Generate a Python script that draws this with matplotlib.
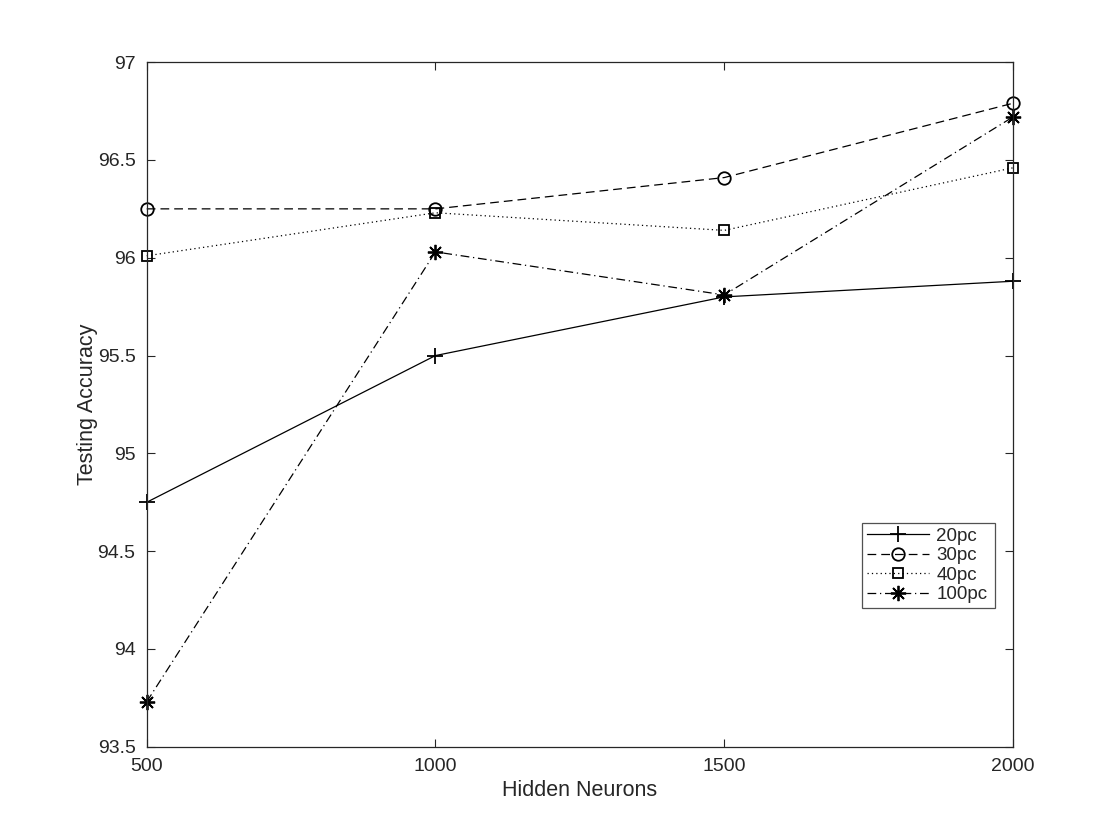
import matplotlib
matplotlib.use('Agg')
import matplotlib.pyplot as plt
from matplotlib.ticker import FormatStrFormatter

# Datos
neuronas = [500, 1000, 1500, 2000]
acc_20pc = [94.75, 95.50, 95.80, 95.88]
acc_30pc = [96.25, 96.25, 96.41, 96.79]
acc_40pc = [96.01, 96.23, 96.14, 96.46]
acc_100pc = [93.73, 96.03, 95.81, 96.72]
yticks = [93.5, 94, 94.5, 95, 95.5, 96, 96.5, 97]

plt.rcParams['font.family'] = ['Liberation Sans', 'DejaVu Sans']
gris = '#262626'

fig = plt.figure(figsize=(11.2, 8.4), dpi=100)
ax = fig.add_axes([0.131, 0.111, 0.7735, 0.815])

lw = 0.9
ax.plot(neuronas, acc_20pc, color='black', linestyle='-', linewidth=lw,
        marker='+', markersize=12, markeredgewidth=1.3, label='20pc', clip_on=False)
ax.plot(neuronas, acc_30pc, color='black', linestyle=(0, (7, 4)), linewidth=lw,
        marker='o', markersize=9, markerfacecolor='none', markeredgewidth=1.3,
        label='30pc', clip_on=False)
ax.plot(neuronas, acc_40pc, color='black', linestyle=(0, (1, 2.5)), linewidth=lw,
        marker='s', markersize=7, markerfacecolor='none', markeredgewidth=1.3,
        label='40pc', clip_on=False)
ax.plot(neuronas, acc_100pc, color='black', linestyle=(0, (7, 3, 1, 3)), linewidth=lw,
        marker=(8, 2, 0), markersize=11, markeredgewidth=1.3, label='100pc', clip_on=False)

ax.set_xlim(500, 2000)
ax.set_ylim(93.5, 97)
ax.set_xticks(neuronas)
ax.set_yticks(yticks)
ax.yaxis.set_major_formatter(FormatStrFormatter('%g'))
ax.tick_params(direction='in', length=6, width=0.8, top=True, right=True,
               labelsize=14, colors=gris, pad=8)
for lado in ax.spines.values():
    lado.set_color(gris)
    lado.set_linewidth(0.9)

ax.set_xlabel('Hidden Neurons', fontsize=15.5, color=gris, labelpad=4)
ax.set_ylabel('Testing Accuracy', fontsize=15.5, color=gris, labelpad=0)

leg = ax.legend(loc='lower left', bbox_to_anchor=(0.826, 0.203, 0.153, 0.127),
                mode='expand', fontsize=13.5, handlelength=3.3, handletextpad=0.4,
                borderaxespad=0, borderpad=0.25, labelspacing=0.12, fancybox=False)
leg.get_frame().set_edgecolor(gris)
leg.get_frame().set_linewidth(0.9)
for t in leg.get_texts():
    t.set_color(gris)

fig.savefig('out.png', dpi=100)
